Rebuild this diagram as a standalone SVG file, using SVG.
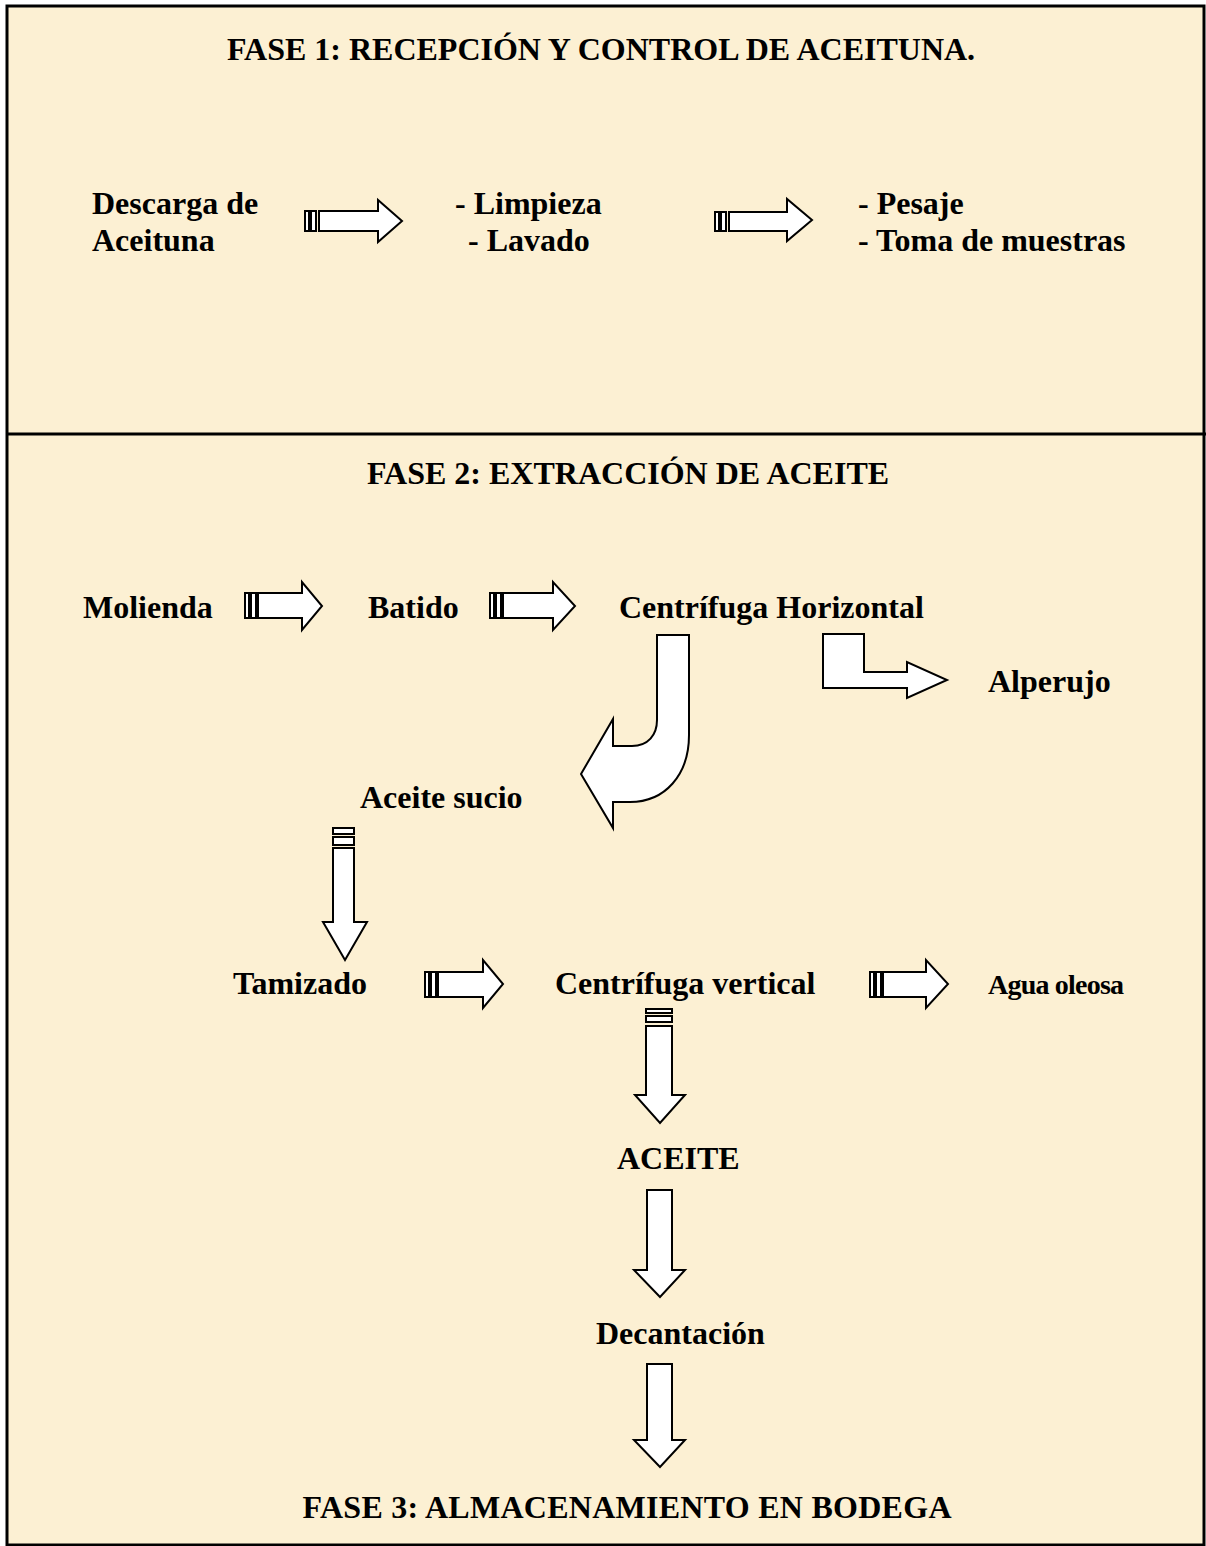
<svg xmlns="http://www.w3.org/2000/svg" width="1206" height="1546" viewBox="0 0 1206 1546">
<style>
text{font-family:"Liberation Serif","Times New Roman",serif;font-weight:bold;font-size:32px;fill:#000}
.ar{fill:#fff;stroke:#000;stroke-width:2;stroke-linejoin:miter}
.st{fill:#fff;stroke:#000;stroke-width:2}
</style>
<rect x="0" y="0" width="1206" height="1546" fill="#fff"/>
<rect x="7" y="6" width="1197" height="1539" fill="#FCF0D3" stroke="#000" stroke-width="3"/>
<line x1="7" y1="434" x2="1206" y2="434" stroke="#000" stroke-width="3"/>
<g id="fase1"><text x="601" y="60" text-anchor="middle">FASE 1: RECEPCIÓN Y CONTROL DE ACEITUNA.</text></g>
<g id="descarga"><text x="92" y="214">Descarga de</text><text x="92" y="251">Aceituna</text></g>
<g id="limpieza"><text x="455" y="214">- Limpieza</text><text x="468" y="251">- Lavado</text></g>
<g id="pesaje"><text x="858" y="214">- Pesaje</text><text x="858" y="251">- Toma de muestras</text></g>
<g id="fase2"><text x="628" y="484" text-anchor="middle">FASE 2: EXTRACCIÓN DE ACEITE</text></g>
<g id="molienda"><text x="83" y="618">Molienda</text></g>
<g id="batido"><text x="368" y="618">Batido</text></g>
<g id="centh"><text x="619" y="618">Centrífuga Horizontal</text></g>
<g id="alperujo"><text x="988" y="692">Alperujo</text></g>
<g id="sucio"><text x="360" y="808">Aceite sucio</text></g>
<g id="tamizado"><text x="233" y="994">Tamizado</text></g>
<g id="centv"><text x="555" y="994">Centrífuga vertical</text></g>
<g id="agua"><text x="988" y="994" style="font-size:28px" textLength="136" lengthAdjust="spacing">Agua oleosa</text></g>
<g id="aceite"><text x="617" y="1169">ACEITE</text></g>
<g id="decantacion"><text x="596" y="1344">Decantación</text></g>
<g id="fase3"><text x="627" y="1518" text-anchor="middle" textLength="649" lengthAdjust="spacing">FASE 3: ALMACENAMIENTO EN BODEGA</text></g>
<g id="connectors">
<rect class="st" x="305" y="211" width="4" height="20"/><rect class="st" x="311" y="211" width="5" height="20"/>
<polygon class="ar" points="319,211 378,211 378,200 402,221 378,242 378,231 319,231"/>
<rect class="st" x="715" y="212" width="4" height="19"/><rect class="st" x="721" y="212" width="5" height="19"/>
<polygon class="ar" points="729,212 787,212 787,199 812,220 787,241 787,231 729,231"/>
<rect class="st" x="245" y="593" width="4" height="25"/><rect class="st" x="251" y="593" width="5" height="25"/>
<polygon class="ar" points="258,593 302,593 302,582 322,606 302,630 302,618 258,618"/>
<rect class="st" x="490" y="593" width="4" height="25"/><rect class="st" x="496" y="593" width="5" height="25"/>
<polygon class="ar" points="503,593 553,593 553,582 575,606 553,630 553,618 503,618"/>
<polygon class="ar" points="823,634 864,634 864,672 907,672 907,662 947,680 907,698 907,688 823,688"/>
<path class="ar" d="M657,635 H689 V735 C689,775 665,802 630,802 H613 V828 L581,774 L613,719 V746 H632 C648,746 657,735 657,720 Z"/>
<rect class="st" x="333" y="828" width="21" height="6"/><rect class="st" x="333" y="837" width="21" height="8"/>
<polygon class="ar" points="333,848 354,848 354,922 367,922 345,960 323,922 333,922"/>
<rect class="st" x="425" y="972" width="4" height="25"/><rect class="st" x="431" y="972" width="5" height="25"/>
<polygon class="ar" points="438,972 483,972 483,960 503,984 483,1008 483,997 438,997"/>
<rect class="st" x="870" y="972" width="4" height="25"/><rect class="st" x="876" y="972" width="5" height="25"/>
<polygon class="ar" points="883,972 926,972 926,960 948,984 926,1008 926,997 883,997"/>
<rect class="st" x="646" y="1009" width="26" height="4"/><rect class="st" x="646" y="1016" width="26" height="6"/>
<polygon class="ar" points="646,1026 672,1026 672,1095 685,1095 660,1123 635,1095 646,1095"/>
<polygon class="ar" points="647,1190 672,1190 672,1270 685,1270 660,1297 634,1270 647,1270"/>
<polygon class="ar" points="647,1364 672,1364 672,1440 685,1440 660,1467 634,1440 647,1440"/>
</g>
</svg>
